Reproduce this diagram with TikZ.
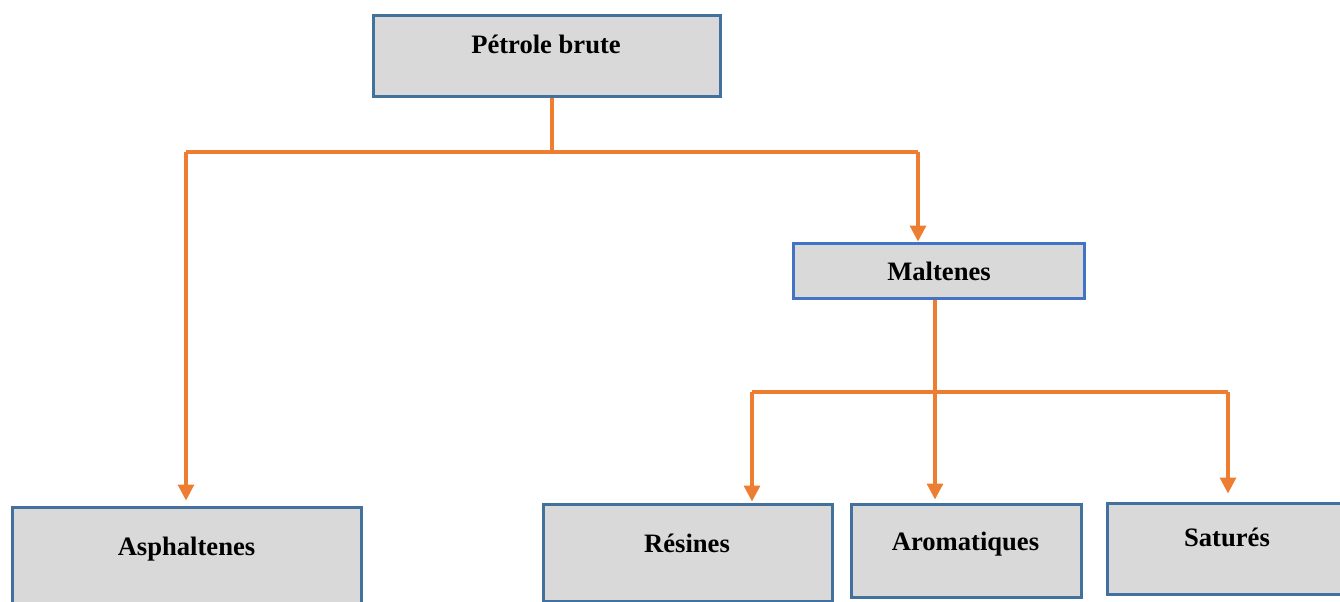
\documentclass[tikz,border=0pt]{standalone}
\usepackage{fontspec}
\setmainfont{Liberation Serif}
\usetikzlibrary{arrows.meta,calc}
\definecolor{boxblue}{HTML}{41719C}
\definecolor{boxbluetwo}{HTML}{4472C4}
\definecolor{boxfill}{HTML}{D9D9D9}
\definecolor{conn}{HTML}{ED7D31}
\begin{document}
\begin{tikzpicture}[x=0.5pt,y=-0.5pt,
  box/.style={draw=boxblue,fill=boxfill,line width=1.5pt,inner sep=0pt},
  lbl/.style={inner sep=0pt,anchor=base,font=\fontsize{13.3pt}{16pt}\selectfont\bfseries},
  link/.style={draw=conn,line width=1.65pt},
  arr/.style={link,-{Triangle[width=8pt,length=8pt]}}]
\useasboundingbox (0,0) rectangle (1340,601);
% boxes
\node[box,minimum width=173.5pt,minimum height=40.5pt] (p) at (546.5,55.5) {};
\node[box,draw=boxbluetwo,minimum width=145.5pt,minimum height=27.5pt] (m) at (938.5,270.5) {};
\node[box,minimum width=174.5pt,minimum height=56.5pt] (a) at (186.5,563.5) {};
\node[box,minimum width=144.5pt,minimum height=48.5pt] (r) at (687.5,552.5) {};
\node[box,minimum width=115pt,minimum height=46.75pt] (ar) at (966,550.75) {};
\node[box,minimum width=136.5pt,minimum height=45.5pt] (s) at (1243.5,548.5) {};
% labels
\node[lbl] (pt) at (546,53) {Pétrole brute};
\node[lbl] (mt) at (939,280) {Maltenes};
\node[lbl] (at) at (186.5,555) {Asphaltenes};
\node[lbl] (rt) at (687,552) {Résines};
\node[lbl] (art) at (965.5,550) {Aromatiques};
\node[lbl] (st) at (1227,546) {Saturés};
% junctions
\coordinate (jt) at (552,152);
\coordinate (jl) at (186,152);
\coordinate (jr) at (918,152);
\coordinate (mx) at (935,392);
\coordinate (ml) at (752,392);
\coordinate (mr) at (1228,392);
% connectors
\draw[link] (p.south -| jt) -- (jt);
\draw[link] (jl) -- (jr);
\draw[arr] (jl) -- ($(a.north -| jl)+(0,-5)$);
\draw[arr] (jr) -- (m.north -| jr);
\draw[arr] (m.south -| mx) -- ($(ar.north -| mx)+(0,-3)$);
\draw[link] (ml) -- (mr);
\draw[arr] (ml) -- ($(r.north -| ml)+(0,-1)$);
\draw[arr] (mr) -- ($(s.north -| mr)+(0,-8)$);
\end{tikzpicture}
\end{document}
